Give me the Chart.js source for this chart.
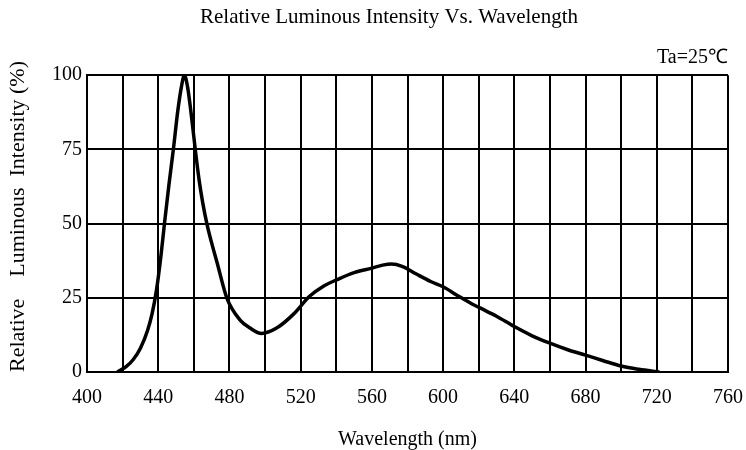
<!DOCTYPE html>
<html>
<head>
<meta charset="utf-8">
<title>Relative Luminous Intensity Vs. Wavelength</title>
<script src="https://cdn.jsdelivr.net/npm/chart.js"></script>
<style>
  body { margin: 0; background: #fff; }
  canvas { display: block; }
</style>
</head>
<body>
<canvas id="spectrumChart" width="746" height="450"></canvas>
<script>
// Spectrum
const wavelengths = [417, 422, 426, 430, 434, 436.5, 439, 441.5, 443.5, 446, 448.5, 451, 453, 454.7, 456.5, 458.5,
    461, 463, 465, 467.5, 470, 473, 478.5, 486, 491.6, 498, 506.5, 516, 525, 533, 540, 550, 560, 566, 571, 577,
    585, 593, 600, 608, 616, 621, 630, 640, 650, 660, 670, 680, 690, 700, 710, 721.5];
const intensity = [0, 1.8, 4.2, 8, 14, 19.5, 27.5, 39, 50, 63, 75, 88, 96, 100, 96, 87,
    74, 64.5, 57, 49.5, 43.5, 37, 25, 17.5, 14.8, 13, 14.8, 19.5, 25.5, 29, 31, 33.5, 35, 36, 36.4, 35.6,
    33, 30.5, 28.7, 25.8, 23, 21.5, 18.8, 15.3, 12.2, 9.7, 7.5, 5.7, 3.8, 2.0, 0.9, 0];

const xTicks = [400, 440, 480, 520, 560, 600, 640, 680, 720, 760];
const yTicks = [0, 25, 50, 75, 100];

const serif = 'Liberation Serif';

document.addEventListener('DOMContentLoaded', function() {
    initializeChart();
});

function initializeChart() {
    const ctx = document.getElementById('spectrumChart').getContext('2d');
    const points = wavelengths.map((w, i) => ({ x: w, y: intensity[i] }));

    new Chart(ctx, {
        type: 'line',
        data: {
            datasets: [{
                data: points,
                borderColor: '#000',
                borderWidth: 3.5,
                pointRadius: 0,
                fill: false,
                cubicInterpolationMode: 'monotone'
            }]
        },
        options: {
            responsive: false,
            animation: false,
            // left padding pushes the centred title to the right like the original
            layout: { padding: { left: 50, right: 18, top: 0, bottom: 0 } },
            plugins: {
                legend: { display: false },
                tooltip: { enabled: false },
                title: {
                    display: true,
                    text: 'Relative Luminous Intensity Vs. Wavelength',
                    color: '#000',
                    font: { family: serif, size: 21, weight: 'normal' },
                    padding: { top: 5, bottom: 5 }
                },
                subtitle: {
                    display: true,
                    text: 'Ta=25\u2103',
                    align: 'end',
                    color: '#000',
                    font: { family: serif, size: 20, weight: 'normal' },
                    padding: { top: 11, bottom: 5 }
                }
            },
            scales: {
                x: {
                    type: 'linear',
                    min: 400,
                    max: 760,
                    afterFit: function(scale) {
                        scale.height = 78;
                        scale.paddingLeft = 0;
                        scale.paddingRight = 0;
                    },
                    ticks: {
                        stepSize: 20,
                        autoSkip: false,
                        maxRotation: 0,
                        padding: 14,
                        color: '#000',
                        font: { family: serif, size: 20 },
                        callback: function(value) {
                            return xTicks.includes(value) ? String(value) : '';
                        }
                    },
                    grid: { color: '#000', lineWidth: 2, drawTicks: false },
                    border: { color: '#000', width: 2 },
                    title: {
                        display: true,
                        text: 'Wavelength (nm)',
                        color: '#000',
                        font: { family: serif, size: 20 },
                        padding: { top: 0, bottom: -2 }
                    }
                },
                y: {
                    min: 0,
                    max: 100,
                    afterFit: function(scale) {
                        scale.width = 37;
                        scale.paddingTop = 0;
                        scale.paddingBottom = 0;
                    },
                    afterBuildTicks: function(scale) {
                        scale.ticks = yTicks.map(v => ({ value: v }));
                    },
                    ticks: {
                        padding: 5,
                        color: '#000',
                        font: { family: serif, size: 20 }
                    },
                    grid: { color: '#000', lineWidth: 2, drawTicks: false },
                    border: { color: '#000', width: 2 },
                    title: {
                        display: true,
                        text: 'Relative    Luminous  Intensity (%)',
                        align: 'start',
                        color: '#000',
                        font: { family: serif, size: 22 },
                        // negative offset: the axis box is narrow, the title sits at the canvas edge
                        padding: { top: -45, bottom: 0 }
                    }
                }
            }
        }
    });
}
</script>
</body>
</html>
